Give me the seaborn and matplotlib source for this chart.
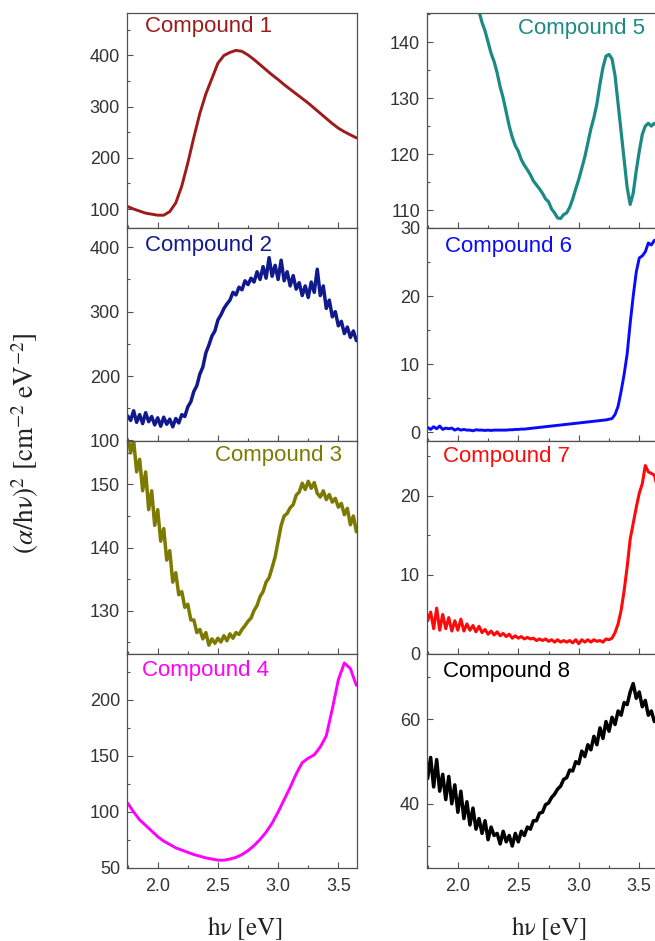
import matplotlib
matplotlib.use('Agg')

import numpy as np
import pandas as pd
import matplotlib.pyplot as plt
from matplotlib.ticker import MultipleLocator
import seaborn as sns

# ====== data ======
# photon energy grids [eV]
hv_coarse = [1.75, 1.80, 1.85, 1.90, 1.95, 2.00, 2.05, 2.10, 2.15, 2.20,
             2.25, 2.30, 2.35, 2.40, 2.45, 2.50, 2.55, 2.60, 2.65, 2.70,
             2.75, 2.80, 2.85, 2.90, 2.95, 3.00, 3.05, 3.10, 3.15, 3.20,
             3.25, 3.30, 3.35, 3.40, 3.45, 3.50, 3.55, 3.60, 3.65]

hv_fine = [1.750, 1.775, 1.800, 1.825, 1.850, 1.875, 1.900, 1.925, 1.950, 1.975,
           2.000, 2.025, 2.050, 2.075, 2.100, 2.125, 2.150, 2.175, 2.200, 2.225,
           2.250, 2.275, 2.300, 2.325, 2.350, 2.375, 2.400, 2.425, 2.450, 2.475,
           2.500, 2.525, 2.550, 2.575, 2.600, 2.625, 2.650, 2.675, 2.700, 2.725,
           2.750, 2.775, 2.800, 2.825, 2.850, 2.875, 2.900, 2.925, 2.950, 2.975,
           3.000, 3.025, 3.050, 3.075, 3.100, 3.125, 3.150, 3.175, 3.200, 3.225,
           3.250, 3.275, 3.300, 3.325, 3.350, 3.375, 3.400, 3.425, 3.450, 3.475,
           3.500, 3.525, 3.550, 3.575, 3.600, 3.625, 3.650]

comp1 = [105, 100, 96, 92, 90, 88, 88, 95, 112, 145,
         190, 240, 287, 325, 355, 385, 400, 406, 410, 408,
         401, 392, 382, 372, 362, 353, 343, 334, 325, 316,
         307, 297, 287, 277, 267, 258, 251, 245, 239]

comp2 = [138, 131, 146, 128, 140, 126, 143, 129, 137, 124,
         135, 122, 136, 125, 133, 121, 134, 127, 140, 137,
         152, 160, 176, 185, 203, 214, 236, 248, 262, 270,
         287, 295, 305, 312, 318, 330, 326, 338, 334, 348,
         342, 352, 346, 362, 350, 370, 352, 384, 355, 372,
         350, 380, 348, 362, 340, 356, 335, 345, 325, 340,
         322, 346, 330, 366, 325, 340, 305, 318, 292, 300,
         278, 285, 266, 276, 260, 270, 255]

comp3 = [158, 155, 157, 152, 154, 149, 152, 146, 149, 143.5,
         146, 141, 143, 138, 139.5, 134.5, 136, 132.5, 133, 130.5,
         131, 128.5, 128.5, 126.5, 127, 125.5, 126.5, 124.5, 125.5, 124.8,
         125.6, 125, 126, 125.2, 126.3, 125.6, 126.5, 126.2, 127, 127.6,
         128.3, 128.8, 130, 130.8, 132.2, 133, 134.5, 135.2, 136.8, 138.5,
         141, 143.5, 145, 145.4, 146.3, 146.8, 148.3, 148.8, 150.2, 149.2,
         150.5, 149.4, 150.3, 148.6, 148, 149, 147.6, 148.4, 147.2, 147.8,
         146.4, 147, 145.2, 146.2, 143.6, 145, 142.5]

comp4 = [108, 100, 93, 88, 83, 78, 74, 71, 68, 66,
         64, 62, 60.5, 59, 58, 57, 57, 58, 59.5, 62,
         65.5, 70, 75.5, 82, 90, 100, 111, 122, 134, 144,
         148, 151, 158, 168, 192, 218, 233, 228, 213]

comp5 = [180, 177, 175, 172, 170, 167, 165, 163, 161, 159,
         157, 155, 153, 151.5, 150, 148.5, 147, 145.5, 143.5, 142,
         140, 138, 136.5, 134.5, 132, 130, 127.5, 125, 123, 121.5,
         120.5, 119, 118, 117.2, 116.3, 115.2, 114.5, 113.8, 113, 112,
         111.5, 110.2, 109.5, 108.6, 108.5, 109.2, 109.5, 110.5, 112, 113.8,
         115.5, 117.5, 119.5, 122, 124.5, 126.5, 129, 132.5, 135.5, 137.5,
         137.8, 137, 134, 129, 124, 119, 114, 111, 113, 117,
         120.5, 123.5, 125, 125.5, 125, 125.5, 125]

comp6 = [0.7, 0.4, 0.8, 0.5, 0.9, 0.4, 0.6, 0.5, 0.6, 0.3,
         0.5, 0.3, 0.4, 0.3, 0.3, 0.2, 0.35, 0.3, 0.3, 0.25,
         0.3, 0.25, 0.3, 0.3, 0.3, 0.3, 0.3, 0.35, 0.35, 0.4,
         0.4, 0.45, 0.45, 0.5, 0.55, 0.6, 0.65, 0.7, 0.75, 0.8,
         0.85, 0.9, 0.95, 1.0, 1.05, 1.1, 1.15, 1.2, 1.25, 1.3,
         1.35, 1.4, 1.45, 1.5, 1.55, 1.6, 1.65, 1.7, 1.75, 1.8,
         1.9, 2.0, 2.6, 3.8, 6.0, 8.5, 11.5, 16.0, 20.0, 23.5,
         25.6, 25.9, 26.5, 27.8, 27.5, 28.2, 27.9]

comp7 = [4.2, 5.3, 3.2, 5.8, 3.0, 5.0, 3.2, 4.6, 2.9, 4.2,
         3.0, 4.4, 2.9, 3.8, 3.0, 3.6, 2.8, 3.5, 2.7, 3.1,
         2.5, 2.9, 2.4, 2.8, 2.3, 2.6, 2.2, 2.5, 2.0, 2.3,
         2.0, 2.2, 1.9, 2.1, 1.9, 2.0, 1.7, 1.9, 1.7, 1.9,
         1.6, 1.8, 1.5, 1.8, 1.5, 1.7, 1.5, 1.7, 1.4, 1.8,
         1.3, 1.8, 1.5, 1.8, 1.5, 1.8, 1.6, 1.7, 1.5, 1.9,
         1.8, 2.0, 2.7, 3.8, 5.5, 8.0, 11.0, 14.5, 16.5, 18.5,
         20.3, 21.5, 23.8, 23.0, 22.8, 22.6, 21.0]

comp8 = [46, 51, 44, 50.5, 43, 47, 41, 46.5, 40, 44.5,
         38, 43, 36.5, 40.5, 35, 39, 34, 36.5, 33, 36,
         31.5, 34.5, 32.5, 33, 30.5, 33.5, 31, 32.5, 30, 33,
         31, 33.5, 32.5, 34.5, 34, 36, 36, 37.8, 38, 39.8,
         40.2, 41.5, 42.3, 43.5, 44.2, 45.8, 46.2, 48, 47.8, 50,
         49.5, 52.5, 51.2, 54, 52.8, 56, 54, 58, 55.5, 59.5,
         57.2, 60.5, 58.8, 62, 61, 64, 63.5, 66.5, 68.5, 65,
         66.5, 63, 64.5, 61, 62, 59.5, 61]

names = ["Compound 1", "Compound 2", "Compound 3", "Compound 4",
         "Compound 5", "Compound 6", "Compound 7", "Compound 8"]

# ====== style ======
sns.set_style("ticks")
plt.rcParams['font.family'] = ['Liberation Sans', 'DejaVu Sans']
plt.rcParams['mathtext.fontset'] = 'stix'
plt.rcParams['xtick.direction'] = 'in'
plt.rcParams['ytick.direction'] = 'in'
plt.rcParams['axes.edgecolor'] = '#505050'
plt.rcParams['axes.linewidth'] = 0.9

W, H = 655, 941
fig = plt.figure(figsize=(W / 100, H / 100), dpi=100)

# panel frames in pixels
col_left = [127, 427]
col_width = [230, 231]
row_top = [13, 228, 441, 654]
row_bot = [228, 441, 654, 868]

# (name, x, y, colour, line width, ylim, major, minor, col, row, label x, label y, ha)
panels = [
    (names[0], hv_coarse, comp1, '#9e1b1b', 2.1, (63, 483), 100, 50, 0, 0, 0.08, 0.935, 'left'),
    (names[1], hv_fine, comp2, '#111a8c', 2.5, (99, 430), 100, 50, 0, 1, 0.08, 0.92, 'left'),
    (names[2], hv_fine, comp3, '#7c7a00', 2.5, (123.1, 156.9), 10, 5, 0, 2, 0.935, 0.93, 'right'),
    (names[3], hv_coarse, comp4, '#ff00ff', 2.1, (50, 241), 50, 25, 0, 3, 0.064, 0.925, 'left'),
    (names[4], hv_fine, comp5, '#1b8a84', 2.3, (106.8, 145.2), 10, 5, 1, 0, 0.394, 0.93, 'left'),
    (names[5], hv_fine, comp6, '#0a0aff', 2.1, (-1.3, 30), 10, 5, 1, 1, 0.078, 0.912, 'left'),
    (names[6], hv_fine, comp7, '#ff0a0a', 2.2, (0, 26.9), 10, 5, 1, 2, 0.07, 0.926, 'left'),
    (names[7], hv_fine, comp8, '#000000', 2.5, (24.8, 75.5), 20, 10, 1, 3, 0.07, 0.92, 'left'),
]

for name, x, y, color, lw, ylim, major, minor, col, row, lx, ly, ha in panels:
    left = col_left[col] / W
    bottom = 1 - row_bot[row] / H
    width = col_width[col] / W
    height = (row_bot[row] - row_top[row]) / H
    ax = fig.add_axes([left, bottom, width, height])

    df = pd.DataFrame({"hv": x, "val": y})
    sns.lineplot(data=df, x="hv", y="val", color=color, linewidth=lw, ax=ax)

    ax.set_xlim(1.745, 3.655)
    ax.set_ylim(*ylim)
    ax.xaxis.set_major_locator(MultipleLocator(0.5))
    ax.xaxis.set_minor_locator(MultipleLocator(0.25))
    ax.yaxis.set_major_locator(MultipleLocator(major))
    ax.yaxis.set_minor_locator(MultipleLocator(minor))
    ax.tick_params(which='major', length=4, width=0.8, labelsize=13,
                   colors='#505050', labelcolor='#333333', pad=5)
    ax.tick_params(which='minor', length=2.5, width=0.8, colors='#505050')
    ax.tick_params(axis='x', pad=7)
    ax.set_xlabel("")
    ax.set_ylabel("")
    if row < 3:
        ax.set_xticklabels([])
    else:
        ax.set_xticks([2.0, 2.5, 3.0, 3.5])
        ax.set_xticklabels(["2.0", "2.5", "3.0", "3.5"])
    for sp in ax.spines.values():
        sp.set_visible(True)
        sp.set_color('#505050')

    ax.text(lx, ly, name, transform=ax.transAxes, color=color,
            fontsize=16, ha=ha, va='center')

fig.text(25 / W, 1 - 443 / H,
         r'$(\alpha/\mathrm{h}\mathrm{\nu})^2\ [\mathrm{cm}^{-2}\ \mathrm{eV}^{-2}]$',
         rotation=90, ha='center', va='center', fontsize=19.5, color='#222222')
for cx in (245, 549):
    fig.text(cx / W, 1 - 928 / H, r'$\mathrm{h}\mathrm{\nu}\ [\mathrm{eV}]$',
             ha='center', va='center', fontsize=18, color='#222222')

fig.savefig("out.png", dpi=100)
plt.close(fig)
